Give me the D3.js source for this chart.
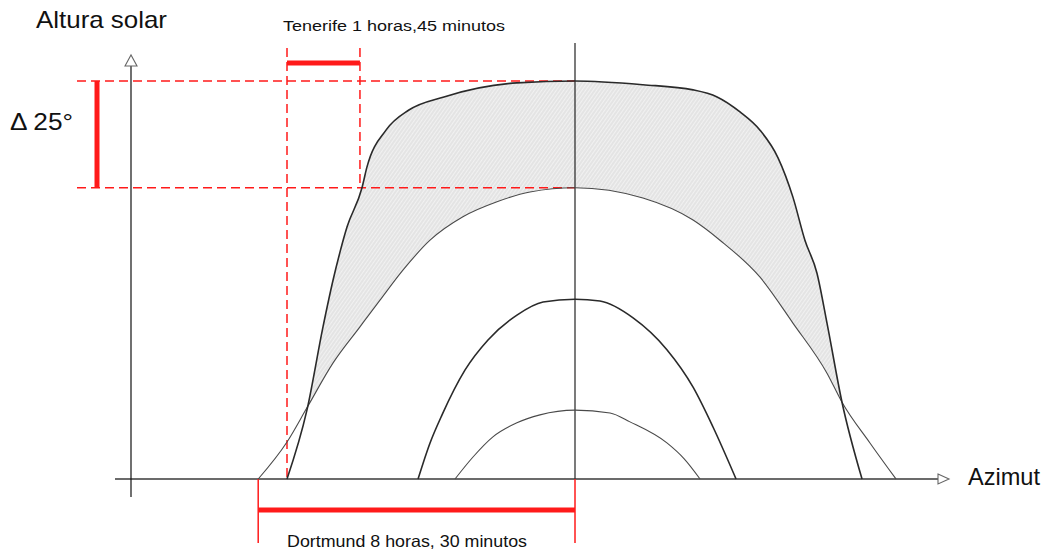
<!DOCTYPE html>
<html>
<head>
<meta charset="utf-8">
<script src="https://cdn.jsdelivr.net/npm/d3@7"></script>
<style>
  html, body { margin: 0; padding: 0; background: #fff; }
  svg { display: block; }
  text { font-family: "Liberation Sans", Arial, sans-serif; fill: #111; }
</style>
</head>
<body>
<svg id="chart" width="1045" height="552"></svg>
<script>
// ---- Data: azimuth (deg from south) and solar altitude (deg) ----
const tenerifeSummerAz  = [-120, -111.7, -105, -100.8, -97.9, -95, -88.75, -86.7, -78.75, -69.2, -54.6, -24.2, 0, 28.3, 49.2, 59.2, 68.75, 77.1, 84.6, 90.8, 95.8, 100.8, 105, 111.25, 119.6];
const tenerifeSummerAlt = [0, 14.7, 32.5, 42.5, 48.5, 53.8, 62.2, 66.6, 74.5, 78.8, 81.6, 84.6, 85, 84.2, 83.1, 81.6, 78.4, 74.5, 68.6, 60.2, 51, 44, 33.3, 16.4, 0];

const dortmundSummerAz  = [-132, -120, -111.7, -100.8, -89.6, -81.25, -71.7, -60.4, -46.7, -32.5, -18.75, 0, 28.3, 49.2, 60.4, 77.1, 90.8, 105, 111.25, 122.9, 133.75];
const dortmundSummerAlt = [0, 7.9, 15.2, 24.8, 32.5, 38.2, 44.6, 51, 56, 59.2, 61.3, 62.2, 60, 55.3, 51, 43.1, 33.3, 22.6, 16.4, 7.7, 0];

const dortmundEquinoxAz  = [-65.4, -60.4, -55.4, -45.8, -36.25, -24.2, -13.3, 0, 10.4, 24.2, 38.3, 49.2, 57.5, 67.1];
const dortmundEquinoxAlt = [0, 7.7, 13.7, 23.3, 29.7, 35, 37.8, 38.4, 38, 34.4, 27.6, 19.6, 11.1, 0];

const dortmundWinterAz  = [-50, -42.5, -34.2, -24.2, -14.6, 0, 14.6, 22.9, 38.3, 45.5, 52.1];
const dortmundWinterAlt = [0, 4.7, 9, 12, 13.7, 14.7, 14.1, 12.2, 7.7, 4.3, 0];

// Annotation values
const tenerifeSunriseAz = -120;
const tenerifeBarEndAz = -89.6;
const dortmundSunriseAz = -132;
const noonAz = 0;
const tenerifeMaxAlt = 85;
const dortmundMaxAlt = 62.2;

// Labels
const yTitle = "Altura solar";
const xTitle = "Azimut";
const deltaLabel = "Δ 25°";
const tenerifeLabel = "Tenerife 1 horas,45 minutos";
const dortmundLabel = "Dortmund 8 horas, 30 minutos";

// ---- Scales ----
const x = d3.scaleLinear().domain([-200, 200]).range([95, 1055]);
const y = d3.scaleLinear().domain([0, 85]).range([479, 81]);

const svg = d3.select("#chart");
const zip = (a, b) => a.map((v, i) => [v, b[i]]);
const T = zip(tenerifeSummerAz, tenerifeSummerAlt);
const D = zip(dortmundSummerAz, dortmundSummerAlt);
const M = zip(dortmundEquinoxAz, dortmundEquinoxAlt);
const L = zip(dortmundWinterAz, dortmundWinterAlt);

const curve = d3.curveMonotoneX;
const line = d3.line().x(d => x(d[0])).y(d => y(d[1])).curve(curve);
const area = d3.area().x(d => x(d[0])).y0(y(0)).y1(d => y(d[1])).curve(curve);

// hatch pattern
const defs = svg.append("defs");
const pat = defs.append("pattern")
  .attr("id", "hatch").attr("patternUnits", "userSpaceOnUse")
  .attr("width", 3).attr("height", 3)
  .attr("patternTransform", "rotate(-55)");
pat.append("rect").attr("width", 3).attr("height", 3).attr("fill", "#e4e4e4");
pat.append("rect").attr("width", 3).attr("height", 1).attr("fill", "#f1f1f1");

// shaded region between Tenerife and Dortmund summer
svg.append("path").attr("d", area(T)).attr("fill", "url(#hatch)");
svg.append("path").attr("d", area(D)).attr("fill", "#fff");

// ---- Axes ----
const axisColor = "#3a3a3a";
const xAxisLeft = 115, xAxisRight = 938;
const yAxisX = 131, yAxisTop = 66, yAxisBottom = 497;
svg.append("line").attr("x1", xAxisLeft).attr("x2", xAxisRight).attr("y1", y(0)).attr("y2", y(0))
  .attr("stroke", axisColor).attr("stroke-width", 1.3);
svg.append("path")
  .attr("d", `M${xAxisRight},${y(0) - 5}L${xAxisRight + 11},${y(0)}L${xAxisRight},${y(0) + 5}Z`)
  .attr("fill", "#fff").attr("stroke", "#666").attr("stroke-width", 1.1);
svg.append("line").attr("x1", yAxisX).attr("x2", yAxisX).attr("y1", yAxisBottom).attr("y2", yAxisTop)
  .attr("stroke", "#111").attr("stroke-width", 1.2);
svg.append("path")
  .attr("d", `M${yAxisX - 6},${yAxisTop}L${yAxisX},${yAxisTop - 11}L${yAxisX + 6},${yAxisTop}Z`)
  .attr("fill", "#fff").attr("stroke", "#666").attr("stroke-width", 1.1);

// ---- Red annotations ----
const red = "#ff1a1a";
const dash = "9,5";
const topY = 48;
[tenerifeMaxAlt, dortmundMaxAlt].forEach(a => {
  svg.append("line").attr("x1", 77).attr("x2", x(noonAz)).attr("y1", y(a)).attr("y2", y(a))
    .attr("stroke", red).attr("stroke-width", 1.5).attr("stroke-dasharray", dash);
});
svg.append("line").attr("x1", x(tenerifeSunriseAz)).attr("x2", x(tenerifeSunriseAz))
  .attr("y1", topY).attr("y2", y(0))
  .attr("stroke", red).attr("stroke-width", 1.5).attr("stroke-dasharray", dash);
svg.append("line").attr("x1", x(tenerifeBarEndAz)).attr("x2", x(tenerifeBarEndAz))
  .attr("y1", topY).attr("y2", y(dortmundMaxAlt))
  .attr("stroke", red).attr("stroke-width", 1.5).attr("stroke-dasharray", dash);
svg.append("line").attr("x1", x(tenerifeSunriseAz)).attr("x2", x(tenerifeBarEndAz))
  .attr("y1", 63).attr("y2", 63).attr("stroke", red).attr("stroke-width", 5);
svg.append("line").attr("x1", 97).attr("x2", 97)
  .attr("y1", y(tenerifeMaxAlt)).attr("y2", y(dortmundMaxAlt)).attr("stroke", red).attr("stroke-width", 5);
[dortmundSunriseAz, noonAz].forEach(a => {
  svg.append("line").attr("x1", x(a)).attr("x2", x(a)).attr("y1", y(0)).attr("y2", 543)
    .attr("stroke", red).attr("stroke-width", 1.5);
});
svg.append("line").attr("x1", x(dortmundSunriseAz)).attr("x2", x(noonAz))
  .attr("y1", 510).attr("y2", 510).attr("stroke", red).attr("stroke-width", 5);

// ---- Noon vertical line ----
svg.append("line").attr("x1", x(noonAz)).attr("x2", x(noonAz)).attr("y1", 43).attr("y2", y(0))
  .attr("stroke", "#333").attr("stroke-width", 1.3);

// ---- Sun path curves ----
svg.append("path").attr("d", line(D)).attr("fill", "none").attr("stroke", "#4a4a4a").attr("stroke-width", 1.1);
svg.append("path").attr("d", line(L)).attr("fill", "none").attr("stroke", "#4a4a4a").attr("stroke-width", 1.1);
svg.append("path").attr("d", line(M)).attr("fill", "none").attr("stroke", "#2a2a2a").attr("stroke-width", 1.6);
svg.append("path").attr("d", line(T)).attr("fill", "none").attr("stroke", "#2a2a2a").attr("stroke-width", 1.6);

// ---- Texts ----
const addText = (tx, ty, size, len, str) => {
  const t = svg.append("text").attr("x", tx).attr("y", ty).attr("font-size", size).text(str);
  if (len) t.attr("textLength", len).attr("lengthAdjust", "spacingAndGlyphs");
  return t;
};
addText(36, 28, 24, 131, yTitle);
addText(283, 31, 15.5, 222, tenerifeLabel);
addText(10, 130, 24, 63, deltaLabel);
addText(968, 485, 24, 72, xTitle);
addText(287, 547, 16.5, 240, dortmundLabel);
</script>
</body>
</html>
